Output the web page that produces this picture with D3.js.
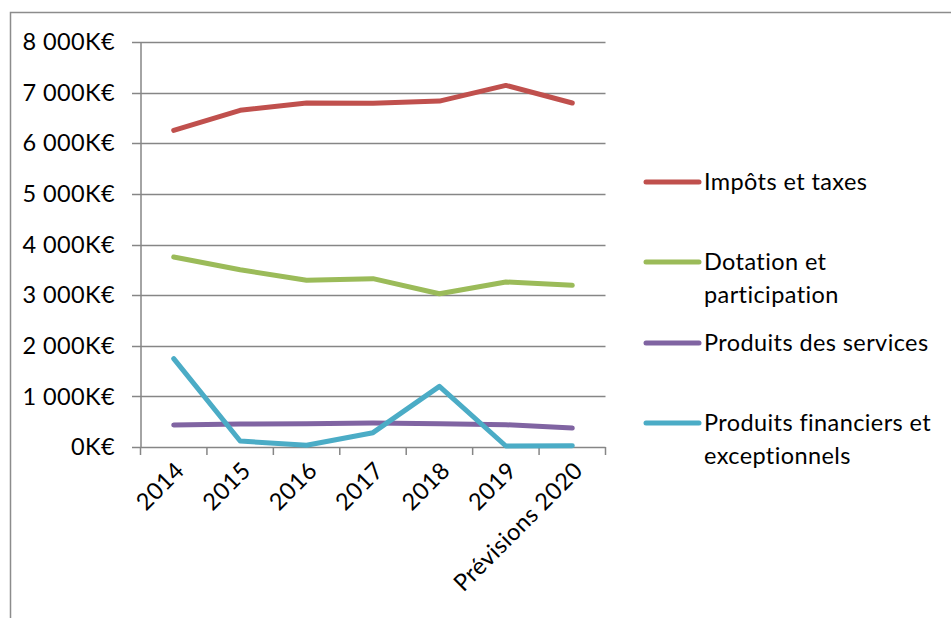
<!DOCTYPE html>
<html><head><meta charset="utf-8">
<script src="https://cdn.jsdelivr.net/npm/d3@7"></script>
<style>body{margin:0;background:#fff}svg{display:block}text{font-family:Lato,"Open Sans",sans-serif;fill:#000;letter-spacing:0.4px}</style>
</head><body>
<svg id="c" width="951" height="618"></svg>
<script>
const categories = ["2014","2015","2016","2017","2018","2019","Prévisions 2020"];
const impots = [6255, 6650, 6795, 6788, 6833, 7143, 6795];
const dotation = [3752, 3502, 3292, 3325, 3028, 3259, 3193];
const services = [434, 454, 461, 474, 461, 441, 375];
const financiers = [1745, 118, 33, 283, 1198, 20, 26];
const yTicks = [0,1000,2000,3000,4000,5000,6000,7000,8000];
const seriesNames = [["Impôts et taxes"],["Dotation et","participation"],["Produits des services"],["Produits financiers et","exceptionnels"]];
const seriesColors = ["#c0504d","#9bbb59","#8064a2","#4bacc6"];
const seriesData = [impots, dotation, services, financiers];
const fs = 23.5;

const svg = d3.select("#c");
svg.append("rect").attr("x",10.5).attr("y",12.5).attr("width",1000).attr("height",1000)
  .attr("fill","none").attr("stroke","#8c8c8c").attr("stroke-width",1.5);

const x = d3.scaleBand().domain(categories).range([140.5,605.5]);
const y = d3.scaleLinear().domain([0,8000]).range([447,42]);

const g = svg.append("g");
g.selectAll("line.grid").data(yTicks).join("line")
  .attr("x1",132).attr("x2",605.5).attr("y1",d=>Math.round(y(d))+0.5).attr("y2",d=>Math.round(y(d))+0.5)
  .attr("stroke","#868686").attr("stroke-width",1.5);
g.append("line").attr("x1",141).attr("x2",141).attr("y1",42).attr("y2",447).attr("stroke","#868686").attr("stroke-width",1.5);
g.selectAll("text.yl").data(yTicks).join("text")
  .attr("x",115).attr("y",d=>y(d)).attr("dy","0.35em").attr("text-anchor","end")
  .attr("font-size",fs).text(d=>(d===0?"0":d3.format(",")(d).replace(","," "))+"K€");
const xTickPos = categories.map(c=>x(c)).concat([x.range()[1]]);
g.selectAll("line.xt").data(xTickPos).join("line")
  .attr("x1",d=>d).attr("x2",d=>d).attr("y1",447).attr("y2",455)
  .attr("stroke","#868686").attr("stroke-width",1.5);
g.selectAll("text.xl").data(categories).join("text")
  .attr("transform",d=>`translate(${x(d)+x.bandwidth()/2+12},${472}) rotate(-45)`)
  .attr("text-anchor","end").attr("font-size",fs).text(d=>d);

const line = d3.line().x((d,i)=>x(categories[i])+x.bandwidth()/2).y(d=>y(d));
svg.selectAll("path.s").data(seriesData).join("path")
  .attr("d",d=>line(d)).attr("fill","none")
  .attr("stroke",(d,i)=>seriesColors[i]).attr("stroke-width",5)
  .attr("stroke-linecap","round").attr("stroke-linejoin","round");

const legY = [182, 262, 343, 423];
const leg = svg.append("g");
seriesNames.forEach((n,i)=>{
  leg.append("line").attr("x1",646).attr("x2",699).attr("y1",legY[i]).attr("y2",legY[i])
    .attr("stroke",seriesColors[i]).attr("stroke-width",5).attr("stroke-linecap","round");
  n.forEach((t,j)=>{
    leg.append("text").attr("x",704).attr("y",legY[i]+j*32.5).attr("dy","0.35em")
      .attr("font-size",fs).text(t);
  });
});
</script>
</body></html>
